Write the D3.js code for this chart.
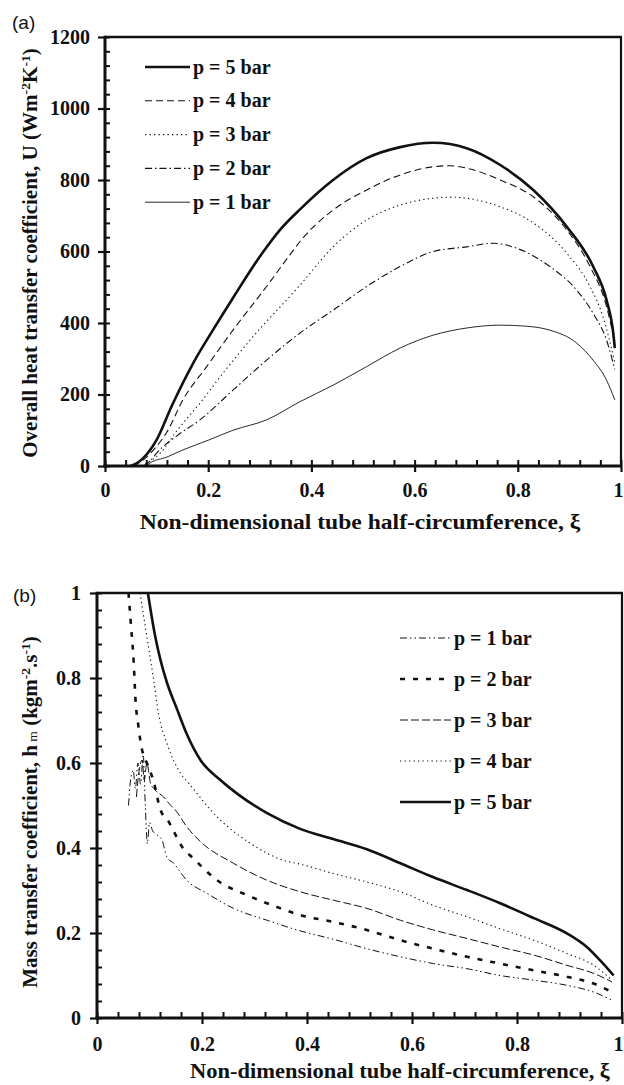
<!DOCTYPE html>
<html><head><meta charset="utf-8">
<script src="https://cdn.jsdelivr.net/npm/d3@7"></script>
<style>
body{margin:0;background:#fff;}
svg{display:block;}
text{font-family:"Liberation Serif","Times New Roman",serif;font-weight:bold;fill:#111;}
</style></head>
<body><svg id="c" width="624" height="1085"></svg>
<script>
// ---------- data: chart (a) overall heat transfer coefficient ----------
const seriesA = ["p = 5 bar","p = 4 bar","p = 3 bar","p = 2 bar","p = 1 bar"];
const a_p5 = [[0.05,0],[0.062,8],[0.074,22],[0.1,73],[0.13,170],[0.171,288],[0.21,382],[0.248,470],[0.306,598],[0.34,662],[0.378,718],[0.442,800],[0.507,861],[0.572,892],[0.636,904],[0.701,889],[0.766,842],[0.83,772],[0.895,669],[0.946,558],[0.972,464],[0.985,372],[0.988,330]];
const a_p4 = [[0.055,0],[0.075,18],[0.1,55],[0.12,95],[0.151,185],[0.197,278],[0.248,380],[0.313,502],[0.358,590],[0.378,628],[0.442,716],[0.507,772],[0.572,814],[0.636,837],[0.668,840],[0.701,833],[0.766,800],[0.83,753],[0.895,660],[0.94,558],[0.972,446],[0.988,345]];
const a_p3 = [[0.07,0],[0.081,8],[0.107,36],[0.14,100],[0.184,176],[0.23,262],[0.281,352],[0.378,506],[0.442,613],[0.507,688],[0.572,730],[0.636,749],[0.668,752],[0.701,749],[0.766,725],[0.83,680],[0.895,595],[0.94,502],[0.965,418],[0.988,290]];
const a_p2 = [[0.075,0],[0.088,15],[0.1,36],[0.14,85],[0.184,129],[0.248,212],[0.313,296],[0.378,372],[0.442,436],[0.507,502],[0.572,558],[0.636,600],[0.701,613],[0.752,623],[0.798,609],[0.862,558],[0.914,492],[0.946,427],[0.972,352],[0.988,270]];
const a_p1 = [[0.08,0],[0.087,8],[0.12,25],[0.151,45],[0.2,72],[0.248,100],[0.313,129],[0.378,180],[0.442,226],[0.507,278],[0.572,330],[0.636,366],[0.701,386],[0.766,394],[0.817,391],[0.862,380],[0.914,344],[0.946,296],[0.972,240],[0.988,185]];
const dataA = [a_p5,a_p4,a_p3,a_p2,a_p1];
const xTicksA = [0,0.2,0.4,0.6,0.8,1];
const yTicksA = [0,200,400,600,800,1000,1200];

// ---------- data: chart (b) mass transfer coefficient ----------
const seriesB = ["p = 1 bar","p = 2 bar","p = 3 bar","p = 4 bar","p = 5 bar"];
const b_p1 = [[0.06,0.5],[0.064,0.56],[0.069,0.583],[0.073,0.54],[0.078,0.6],[0.083,0.55],[0.088,0.62],[0.092,0.5],[0.096,0.41],[0.1,0.46],[0.106,0.44],[0.111,0.434],[0.124,0.418],[0.133,0.379],[0.146,0.364],[0.171,0.324],[0.21,0.293],[0.26,0.258],[0.324,0.23],[0.387,0.205],[0.451,0.185],[0.514,0.163],[0.578,0.144],[0.641,0.128],[0.705,0.116],[0.768,0.1],[0.832,0.089],[0.895,0.077],[0.946,0.061],[0.981,0.042]];
const b_p2 = [[0.06,1.0],[0.065,0.92],[0.07,0.835],[0.073,0.756],[0.079,0.685],[0.086,0.63],[0.095,0.6],[0.108,0.556],[0.12,0.493],[0.137,0.461],[0.162,0.403],[0.184,0.375],[0.229,0.324],[0.286,0.289],[0.343,0.261],[0.387,0.242],[0.451,0.226],[0.514,0.207],[0.578,0.183],[0.641,0.163],[0.705,0.144],[0.768,0.128],[0.832,0.112],[0.895,0.097],[0.946,0.081],[0.981,0.061]];
const b_p3 = [[0.075,0.52],[0.08,0.58],[0.086,0.607],[0.09,0.56],[0.095,0.6],[0.102,0.552],[0.111,0.536],[0.127,0.52],[0.137,0.505],[0.152,0.485],[0.171,0.45],[0.197,0.415],[0.26,0.364],[0.324,0.324],[0.387,0.297],[0.451,0.277],[0.514,0.258],[0.578,0.23],[0.641,0.207],[0.705,0.187],[0.768,0.167],[0.832,0.148],[0.895,0.124],[0.946,0.105],[0.981,0.085]];
const b_p4 = [[0.082,1.0],[0.095,0.897],[0.108,0.795],[0.117,0.717],[0.133,0.647],[0.159,0.576],[0.175,0.552],[0.229,0.473],[0.292,0.411],[0.355,0.371],[0.387,0.362],[0.45,0.34],[0.514,0.32],[0.578,0.297],[0.641,0.265],[0.705,0.238],[0.768,0.21],[0.832,0.183],[0.895,0.152],[0.946,0.124],[0.981,0.089]];
const b_p5 = [[0.097,1.0],[0.111,0.897],[0.121,0.842],[0.133,0.79],[0.152,0.728],[0.171,0.668],[0.197,0.607],[0.235,0.56],[0.27,0.525],[0.324,0.482],[0.387,0.445],[0.45,0.421],[0.514,0.397],[0.578,0.364],[0.641,0.331],[0.705,0.301],[0.768,0.27],[0.832,0.235],[0.895,0.199],[0.933,0.167],[0.958,0.136],[0.984,0.1]];
const dataB = [b_p1,b_p2,b_p3,b_p4,b_p5];
const xTicksB = [0,0.2,0.4,0.6,0.8,1];
const yTicksB = [0,0.2,0.4,0.6,0.8,1];

// ---------- styles ----------
const styleA = [
  {w:2.6,dash:null},
  {w:1.1,dash:"7,4"},
  {w:1.1,dash:"1.3,3.2"},
  {w:1.1,dash:"7,3,1.5,3"},
  {w:0.9,dash:null}
];
const styleB = [
  {w:1.0,dash:"7,3,1.5,3,1.5,3"},
  {w:2.6,dash:"5,8"},
  {w:1.0,dash:"8,3"},
  {w:1.1,dash:"1.3,3.2"},
  {w:2.6,dash:null}
];

const svg = d3.select("#c");
svg.append("rect").attr("width",624).attr("height",1085).attr("fill","#fff");

function minorTicks(domain, step){
  const out=[]; for(let v=domain[0]; v<=domain[1]+1e-9; v+=step) out.push(+v.toFixed(6)); return out;
}

function panel(o){
  const g = svg.append("g");
  const x=o.x, y=o.y;
  const [x0,x1]=x.range(), [y0,y1]=y.range();
  g.append("line").attr("x1",x0).attr("x2",x1+1).attr("y1",y1).attr("y2",y1).attr("stroke","#111").attr("stroke-width",2.6);
  g.append("line").attr("x1",x1).attr("x2",x1).attr("y1",y1).attr("y2",y0).attr("stroke","#111").attr("stroke-width",2.2);
  const yMin = minorTicks(y.domain(), o.yMinor);
  const xMin = minorTicks(x.domain(), o.xMinor);
  g.append("g").attr("transform",`translate(${x0},0)`)
    .call(d3.axisRight(y).tickValues(yMin).tickSize(5).tickFormat(""))
    .call(s=>{s.select(".domain").remove(); s.selectAll("line").attr("stroke","#111").attr("stroke-width",2);});
  g.append("g").attr("transform",`translate(0,${y0})`)
    .call(d3.axisTop(x).tickValues(xMin).tickSize(6).tickFormat(""))
    .call(s=>{s.select(".domain").remove(); s.selectAll("line").attr("stroke","#111").attr("stroke-width",2);});
  g.append("g").attr("transform",`translate(${x0},0)`)
    .call(d3.axisLeft(y).tickValues(o.yTicks).tickSize(7).tickPadding(o.yPad).tickFormat(o.yFmt))
    .call(s=>{s.select(".domain").remove(); s.selectAll("line").attr("stroke","#111").attr("stroke-width",2.2);
      s.selectAll("text").attr("font-family",null).style("font-size",o.fs+"px").attr("fill","#111");});
  g.append("g").attr("transform",`translate(0,${y0})`)
    .call(d3.axisBottom(x).tickValues(o.xTicks).tickSize(6).tickPadding(o.xPad).tickFormat(o.xFmt))
    .call(s=>{s.select(".domain").remove(); s.selectAll("line").attr("stroke","#111").attr("stroke-width",2.2);
      s.selectAll("text").attr("font-family",null).style("font-size",o.fs+"px").attr("fill","#111");
      s.selectAll(".tick").filter(d=>d===1).select("text").attr("text-anchor","end").attr("x",x1>620?623-x1:4);});
  g.append("line").attr("x1",x0).attr("x2",x0).attr("y1",y1-1.3).attr("y2",y0+1.5).attr("stroke","#111").attr("stroke-width",3);
  g.append("line").attr("x1",x0-1.5).attr("x2",x1+1).attr("y1",y0).attr("y2",y0).attr("stroke","#111").attr("stroke-width",3);
  const line = d3.line().curve(d3.curveMonotoneX).x(d=>x(d[0])).y(d=>y(d[1]));
  o.data.forEach((d,i)=>{
    g.append("path").attr("d",line(d)).attr("fill","none").attr("stroke","#111")
      .attr("stroke-width",o.styles[i].w).attr("stroke-dasharray",o.styles[i].dash)
      .attr("stroke-linejoin","round");
  });
  o.names.forEach((n,i)=>{
    const cy=o.leg.y0+i*o.leg.dy;
    g.append("line").attr("x1",o.leg.x0).attr("x2",o.leg.x1).attr("y1",cy).attr("y2",cy)
      .attr("stroke","#111").attr("stroke-width",o.styles[i].w).attr("stroke-dasharray",o.styles[i].dash);
    g.append("text").attr("x",o.leg.x1+3).attr("y",cy+6.5).style("font-size",o.leg.fs+"px").text(n);
  });
}

const xA = d3.scaleLinear([0,1],[105,621]);
const yA = d3.scaleLinear([0,1200],[466,37]);
panel({x:xA,y:yA,xTicks:xTicksA,yTicks:yTicksA,xMinor:0.04,yMinor:40,
  xFmt:d=>String(d),yFmt:d=>String(d),fs:20,yPad:8,xPad:11,
  data:dataA,styles:styleA,names:seriesA,leg:{x0:145,x1:190,y0:67,dy:33.8,fs:20}});

const xB = d3.scaleLinear([0,1],[97,622]);
const yB = d3.scaleLinear([0,1],[1018,593]);
panel({x:xB,y:yB,xTicks:xTicksB,yTicks:yTicksB,xMinor:0.04,yMinor:0.04,
  xFmt:d=>String(d),yFmt:d=>String(d),fs:20,yPad:9,xPad:13,
  data:dataB,styles:styleB,names:seriesB,leg:{x0:400,x1:451,y0:638,dy:41,fs:20}});

// panel labels
svg.append("text").attr("x",12).attr("y",29).style("font-family","'Liberation Sans',Arial,sans-serif").style("font-weight","normal").style("font-size","19px").text("(a)");
svg.append("text").attr("x",13).attr("y",602).style("font-family","'Liberation Sans',Arial,sans-serif").style("font-weight","normal").style("font-size","19px").text("(b)");

// titles stretched to the reference's footprint
function fitTitle(t, cx, cy, rot, target){
  const w = t.node().getBBox().width || target;
  const s = target / w;
  t.attr("x",0).attr("y",0).attr("text-anchor","middle")
   .attr("transform",`translate(${cx},${cy}) rotate(${rot}) scale(${s},1)`);
}
const xtA = svg.append("text").style("font-size","20px").text("Non-dimensional tube half-circumference, ξ");
fitTitle(xtA,360,529,0,441);
const xtB = svg.append("text").style("font-size","20px").text("Non-dimensional tube half-circumference, ξ");
fitTitle(xtB,400,1078,0,420);

const tA = svg.append("text").style("font-size","20px");
tA.append("tspan").text("Overall heat transfer coefficient, U (Wm");
tA.append("tspan").attr("dy",-7).style("font-size","13px").text("-2");
tA.append("tspan").attr("dy",7).text("K");
tA.append("tspan").attr("dy",-7).style("font-size","13px").text("-1");
tA.append("tspan").attr("dy",7).text(")");
fitTitle(tA,37,253,-90,410);

const tB = svg.append("text").style("font-size","20px");
tB.append("tspan").text("Mass transfer coefficient, h");
tB.append("tspan").style("font-size","13px").style("font-weight","normal").text(" m");
tB.append("tspan").text(" (kgm");
tB.append("tspan").attr("dy",-7).style("font-size","13px").text("-2");
tB.append("tspan").attr("dy",7).text(".s");
tB.append("tspan").attr("dy",-7).style("font-size","13px").text("-1");
tB.append("tspan").attr("dy",7).text(")");
fitTitle(tB,37,812,-90,352);
</script></body></html>
